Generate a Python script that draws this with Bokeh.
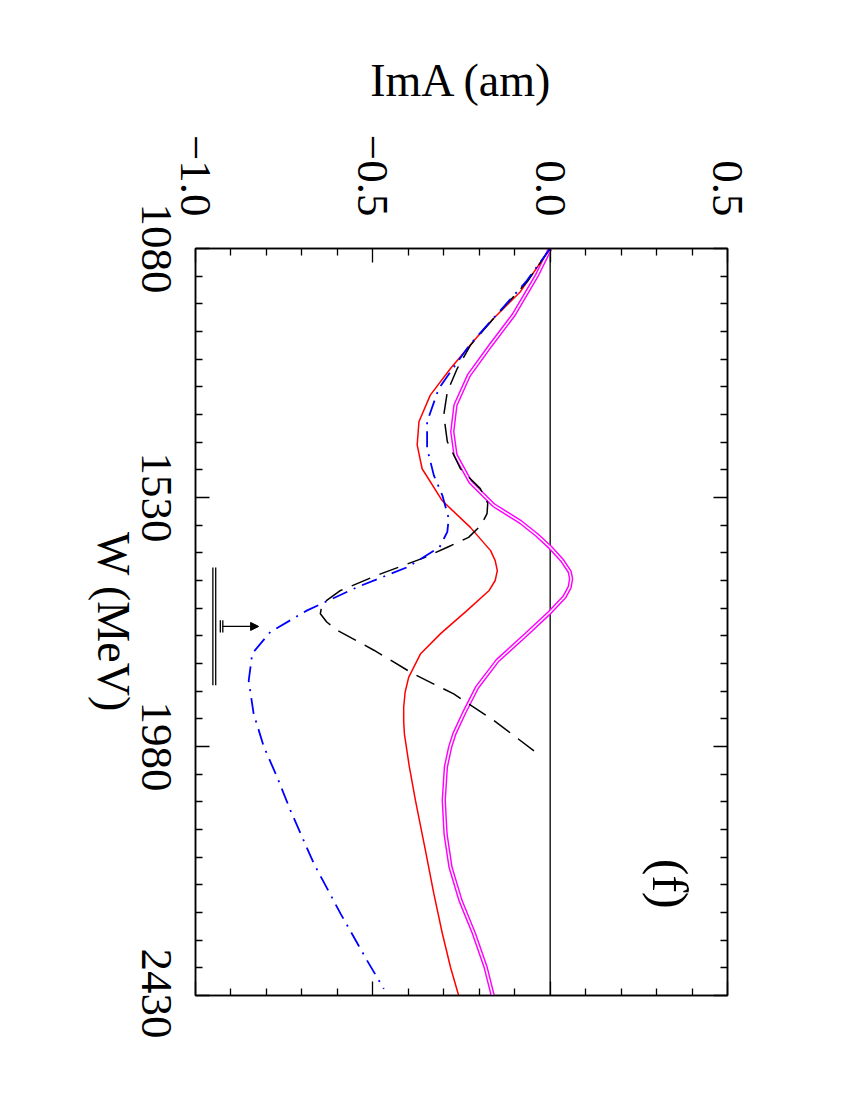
import math
from bokeh.plotting import figure
from bokeh.layouts import row
from bokeh.models import (LinearAxis, FixedTicker, Range1d, Span, Label, Arrow,
                          NormalHead)
from bokeh.embed import file_html
from bokeh.resources import INLINE

# ---------------- data ----------------
w_magenta = [1080, 1128, 1200, 1255, 1309, 1363, 1411, 1453, 1502, 1544, 1574, 1598,
             1620, 1644, 1664, 1677, 1692, 1710, 1737, 1776, 1825, 1873, 1897, 1921,
             1957, 1981, 2017, 2077, 2138, 2198, 2258, 2318, 2379, 2430]
ima_magenta = [0.0, -0.037, -0.103, -0.168, -0.229, -0.267, -0.276, -0.267, -0.225,
               -0.159, -0.084, -0.037, 0.0, 0.034, 0.055, 0.059, 0.055, 0.040, 0.0,
               -0.065, -0.149, -0.206, -0.225, -0.244, -0.270, -0.282, -0.294, -0.300,
               -0.295, -0.281, -0.253, -0.215, -0.182, -0.162]

w_red = [1080, 1158, 1206, 1240, 1297, 1345, 1393, 1435, 1478, 1536, 1584, 1626,
         1644, 1662, 1680, 1698, 1734, 1776, 1813, 1855, 1882, 1909, 1935, 1957,
         2017, 2077, 2167, 2246, 2318, 2379, 2430]
ima_red = [0.0, -0.084, -0.159, -0.206, -0.281, -0.338, -0.370, -0.375, -0.361,
           -0.304, -0.225, -0.168, -0.155, -0.149, -0.155, -0.172, -0.234, -0.309,
           -0.366, -0.399, -0.409, -0.413, -0.413, -0.411, -0.397, -0.380, -0.352,
           -0.328, -0.304, -0.281, -0.258]

w_black = [1080, 1140, 1206, 1255, 1297, 1339, 1381, 1429, 1478, 1514, 1540, 1559,
           1580, 1602, 1620, 1640, 1668, 1698, 1722, 1740, 1755, 1770, 1806, 1849,
           1885, 1933, 1990]
ima_black = [0.0, -0.065, -0.159, -0.225, -0.262, -0.290, -0.300, -0.290, -0.253,
             -0.197, -0.176, -0.178, -0.195, -0.230, -0.290, -0.360, -0.478, -0.591,
             -0.643, -0.648, -0.630, -0.600, -0.497, -0.385, -0.272, -0.159, -0.041]

w_blue = [1080, 1140, 1206, 1255, 1303, 1333, 1393, 1441, 1490, 1526, 1568, 1592,
          1620, 1656, 1692, 1734, 1773, 1812, 1861, 1921, 1981, 2035, 2096, 2192,
          2282, 2367, 2418]
ima_blue = [0.0, -0.068, -0.160, -0.228, -0.281, -0.314, -0.347, -0.347, -0.328,
            -0.304, -0.286, -0.290, -0.312, -0.403, -0.544, -0.685, -0.789, -0.840,
            -0.850, -0.836, -0.807, -0.770, -0.732, -0.666, -0.591, -0.516, -0.469]

# resonance marker: W position and full width (MeV)
marker_w = 1763
marker_width = 213

ima_ticks = [-1.0, -0.5, 0.0, 0.5]
ima_tick_labels = ["\u22121.0", "\u22120.5", "0.0", "0.5"]
ima_minor = [-0.9, -0.8, -0.7, -0.6, -0.4, -0.3, -0.2, -0.1, 0.1, 0.2, 0.3, 0.4]
w_ticks = [1080, 1530, 1980, 2430]
w_tick_labels = ["1080", "1530", "1980", "2430"]
w_minor = [1130, 1180, 1230, 1280, 1330, 1380, 1430, 1480,
           1580, 1630, 1680, 1730, 1780, 1830, 1880, 1930,
           2030, 2080, 2130, 2180, 2230, 2280, 2330, 2380]

FONT = "Liberation Serif"
TOP, BOTTOM, HEIGHT = 248, 43, 1038
TICK_FONT = "45px"
TITLE_FONT = "46px"
SIDE_W = 200          # width of the strip that carries the W-axis texts
OVERLAP = 55          # main canvas starts OVERLAP px before the strip ends

# ---------------- main figure ----------------
p = figure(width=(195 - (SIDE_W - OVERLAP)) + 532 + 60, height=HEIGHT,
           x_range=Range1d(-1.0, 0.5), y_range=Range1d(2430, 1080),
           output_backend="svg", toolbar_location=None,
           x_axis_location=None, y_axis_location=None,
           min_border_left=195 - (SIDE_W - OVERLAP), min_border_top=TOP,
           min_border_right=60, min_border_bottom=BOTTOM,
           margin=(0, 0, 0, -OVERLAP))
p.outline_line_color = "black"
p.outline_line_width = 1.5
p.outline_line_alpha = 1.0
p.border_fill_color = None
p.grid.visible = False


def tick_axis(ticks, minor):
    return LinearAxis(ticker=FixedTicker(ticks=ticks, minor_ticks=minor),
                      major_tick_in=14, major_tick_out=0,
                      minor_tick_in=7, minor_tick_out=0,
                      major_tick_line_width=1.3, minor_tick_line_width=1.3,
                      major_tick_line_color="black", minor_tick_line_color="black",
                      axis_line_width=1.5, axis_line_color="black",
                      major_label_text_color=None, major_label_text_font_size="1px",
                      major_label_standoff=0)


ax_top = tick_axis(ima_ticks, ima_minor)
ax_top.major_label_overrides = {t: l for t, l in zip(ima_ticks, ima_tick_labels)}
ax_top.major_label_text_color = "black"
ax_top.major_label_text_font = FONT
ax_top.major_label_text_font_size = TICK_FONT
ax_top.major_label_orientation = -math.pi / 2
ax_top.major_label_standoff = 32
ax_top.axis_label = "ImA (am)"
ax_top.axis_label_text_font = FONT
ax_top.axis_label_text_font_size = TITLE_FONT
ax_top.axis_label_text_font_style = "normal"
ax_top.axis_label_text_color = "black"
ax_top.axis_label_standoff = 26
p.add_layout(ax_top, "above")
p.add_layout(tick_axis(ima_ticks, ima_minor), "below")
p.add_layout(tick_axis(w_ticks, w_minor), "left")
p.add_layout(tick_axis(w_ticks, w_minor), "right")

# zero line
p.add_layout(Span(location=0, dimension="height", line_color="black",
                  line_width=1.3, level="underlay"))

# ---------------- curves ----------------
p.line(ima_magenta, w_magenta, line_color="#ff00ff", line_width=4.4)
p.line(ima_magenta, w_magenta, line_color="white", line_width=1.5)
p.line(ima_red, w_red, line_color="#ff0000", line_width=1.5)
p.line(ima_black, w_black, line_color="black", line_width=1.5, line_dash="20 10")
p.line(ima_blue, w_blue, line_color="#0000ff", line_width=1.8,
       line_dash="16 7 2 7")

# ---------------- resonance marker ----------------
half = marker_width / 2
p.segment(x0=[-0.951, -0.943], y0=[marker_w - half] * 2,
          x1=[-0.951, -0.943], y1=[marker_w + half] * 2,
          line_color="black", line_width=1.3)
p.segment(x0=[-0.930, -0.923], y0=[marker_w - 11] * 2,
          x1=[-0.930, -0.923], y1=[marker_w + 11] * 2,
          line_color="black", line_width=1.3)
p.add_layout(Arrow(x_start=-0.923, y_start=marker_w, x_end=-0.822, y_end=marker_w,
                   line_color="black", line_width=1.3,
                   end=NormalHead(size=8, fill_color="black", line_color="black")))

# panel tag
p.add_layout(Label(x=0.339, y=2228, text="(f)", angle=-math.pi / 2,
                   text_font=FONT, text_font_size="50px", text_color="black",
                   text_align="center", text_baseline="middle"))

# ---------------- side strip carrying the W axis texts ----------------
side = figure(width=SIDE_W, height=HEIGHT, x_range=Range1d(0, 1), y_range=p.y_range,
              output_backend="svg", toolbar_location=None,
              x_axis_location=None, y_axis_location=None,
              min_border_left=0, min_border_right=0,
              min_border_top=TOP, min_border_bottom=BOTTOM)
side.outline_line_color = None
side.grid.visible = False

ax_title = LinearAxis(ticker=FixedTicker(ticks=[]), axis_label="W (MeV)",
                      axis_label_text_font=FONT, axis_label_text_font_size=TITLE_FONT,
                      axis_label_text_font_style="normal",
                      axis_label_text_color="black", axis_label_standoff=6,
                      axis_line_color=None, major_tick_line_color=None,
                      minor_tick_line_color=None, major_tick_out=0, minor_tick_out=0,
                      major_tick_in=0, minor_tick_in=0,
                      major_label_text_color=None, major_label_text_font_size="1px")
side.add_layout(ax_title, "right")

ax_wlab = LinearAxis(ticker=FixedTicker(ticks=w_ticks, minor_ticks=[]),
                     major_label_overrides={t: l for t, l in zip(w_ticks, w_tick_labels)},
                     major_label_orientation="vertical",
                     major_label_text_font=FONT, major_label_text_font_size=TICK_FONT,
                     major_label_text_color="black", major_label_standoff=0,
                     axis_line_color=None, major_tick_line_color=None,
                     minor_tick_line_color=None, major_tick_out=0, minor_tick_out=0,
                     major_tick_in=0, minor_tick_in=0)
side.add_layout(ax_wlab, "right")

# invisible spacer (hidden ticks only) so the labels keep their distance to the frame
ax_pad = LinearAxis(ticker=FixedTicker(ticks=w_ticks, minor_ticks=[]),
                    axis_line_color=None,
                    major_tick_line_color=None, minor_tick_line_color=None,
                    major_tick_out=27, minor_tick_out=0, major_tick_in=0,
                    minor_tick_in=0, major_label_text_color=None,
                    major_label_text_font_size="1px", major_label_standoff=0)
side.add_layout(ax_pad, "right")

layout = row(side, p, spacing=0)
open("out.html", "w").write(file_html(layout, INLINE))
